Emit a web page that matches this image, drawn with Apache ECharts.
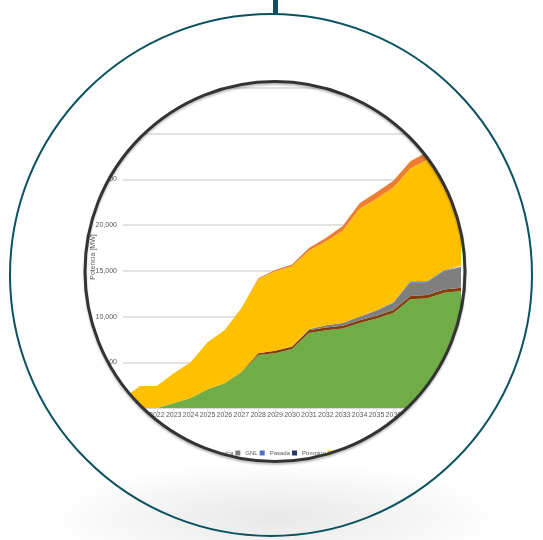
<!DOCTYPE html>
<html>
<head>
<meta charset="utf-8">
<script src="https://cdn.jsdelivr.net/npm/echarts@6/dist/echarts.min.js"></script>
<style>
  html, body { margin: 0; padding: 0; background: #fff; }
  #chart { width: 543px; height: 540px; }
</style>
</head>
<body>
<div id="chart"></div>
<script>
// años y potencia instalada por tecnología [MW]
const years = ['2020', '2021', '2022', '2023', '2024', '2025', '2026', '2027', '2028', '2029', '2030',
  '2031', '2032', '2033', '2034', '2035', '2036', '2037', '2038', '2039', '2040']
const eolica = [0, 0, 0, 550, 1100, 2050, 2700, 3900, 5800, 6000, 6450, 8200, 8500, 8700, 9300, 9800, 10400, 11900, 12000, 12600, 12800]
const geotermica = [0, 0, 0, 0, 0, 0, 0, 50, 200, 250, 250, 300, 300, 300, 300, 300, 320, 350, 350, 350, 350]
const gnl = [0, 0, 0, 0, 0, 0, 0, 0, 0, 0, 50, 100, 250, 300, 400, 550, 800, 1500, 1400, 2000, 2300]
const pasada = [0, 0, 0, 0, 0, 0, 0, 0, 0, 0, 0, 0, 0, 0, 20, 30, 50, 80, 100, 100, 100]
const pumping = [0, 0, 0, 0, 0, 0, 0, 0, 0, 0, 0, 0, 0, 0, 0, 0, 10, 20, 20, 20, 20]
const solar = [1000, 2400, 2400, 3250, 3900, 5150, 5800, 6950, 8100, 8700, 8750, 8600, 9150, 10100, 11780, 12220, 12530, 12350, 13280, 13030, 13480]
const termosolar = [0, 0, 0, 0, 0, 0, 0, 0, 100, 150, 200, 300, 400, 500, 600, 700, 750, 800, 850, 900, 950]
const yTicks = [0, 5000, 10000, 15000, 20000, 25000, 30000, 35000]

const seriesDefs = [
  { name: 'Eólica', data: eolica, color: '#70AD47' },
  { name: 'Geotérmica', data: geotermica, color: '#843C0C' },
  { name: 'GNL', data: gnl, color: '#7F7F7F' },
  { name: 'Pasada', data: pasada, color: '#4472C4' },
  { name: 'Pumping', data: pumping, color: '#203864' },
  { name: 'Solar', data: solar, color: '#FFC000' },
  { name: 'Termosolar', data: termosolar, color: '#ED7D31' },
]

const font = "'Liberation Sans Narrow', 'Liberation Sans', sans-serif"
const cx = 275, cy = 271.5, rIn = 190

const chart = echarts.init(document.getElementById('chart'))

chart.setOption({
  animation: false,
  color: seriesDefs.map((s) => s.color),
  grid: { left: 123, right: 82, top: 88, bottom: 132 },
  legend: {
    left: 159,
    top: 445,
    itemWidth: 5,
    itemHeight: 5,
    itemGap: 2,
    icon: 'rect',
    textStyle: { fontSize: 6, color: '#595959', fontFamily: font },
    data: seriesDefs.map((s) => s.name),
  },
  xAxis: {
    type: 'category',
    data: years,
    boundaryGap: false,
    axisLine: { lineStyle: { color: '#d9d9d9' } },
    axisTick: { show: true, interval: 0, length: 4, lineStyle: { color: '#d9d9d9' } },
    axisLabel: { interval: 0, hideOverlap: false, fontSize: 7, color: '#595959', fontFamily: font, margin: 4 },
  },
  yAxis: {
    type: 'value',
    min: 0,
    max: yTicks[yTicks.length - 1],
    interval: 5000,
    axisLine: { show: false },
    axisTick: { show: false },
    axisLabel: {
      fontSize: 7, color: '#595959', fontFamily: font, margin: 6,
      formatter: (v) => v.toLocaleString('en-US'),
    },
    splitLine: { lineStyle: { color: '#d9d9d9', width: 1.5 } },
  },
  series: seriesDefs.map((s) => ({
    name: s.name,
    type: 'line',
    stack: 'total',
    data: s.data,
    symbol: 'none',
    lineStyle: { width: 0 },
    areaStyle: { color: s.color, opacity: 1 },
  })),
  graphic: [
    // título del eje y
    {
      type: 'text', z: 50, x: 93, y: 257, rotation: Math.PI / 2,
      style: { text: 'Potencia [MW]', fontSize: 7, fill: '#595959', fontFamily: font, align: 'center', verticalAlign: 'middle' },
    },
    // máscara blanca fuera del círculo interior
    { type: 'ring', z: 100, shape: { cx: cx, cy: cy, r: 800, r0: rIn }, style: { fill: '#fff' } },
    // sombra inferior
    {
      type: 'circle', z: 101,
      x: 275, y: 518, scaleX: 4.2, scaleY: 1,
      shape: { cx: 0, cy: 0, r: 55 },
      style: {
        fill: new echarts.graphic.RadialGradient(0.5, 0.5, 0.5, [
          { offset: 0, color: 'rgba(0,0,0,0.09)' },
          { offset: 0.6, color: 'rgba(0,0,0,0.04)' },
          { offset: 1, color: 'rgba(0,0,0,0)' },
        ]),
      },
    },
    // borde del círculo interior
    {
      type: 'circle', z: 102,
      shape: { cx: cx, cy: cy, r: rIn },
      style: { fill: 'none', stroke: '#333', lineWidth: 3, shadowBlur: 2, shadowColor: 'rgba(0,0,0,0.25)', shadowOffsetY: 2 },
    },
    // círculo exterior
    {
      type: 'circle', z: 103,
      shape: { cx: 271, cy: 275, r: 261 },
      style: { fill: 'none', stroke: '#0b5260', lineWidth: 2 },
    },
    { type: 'rect', z: 103, shape: { x: 273, y: 0, width: 5, height: 14 }, style: { fill: '#0b4f63' } },
  ],
})
</script>
</body>
</html>
